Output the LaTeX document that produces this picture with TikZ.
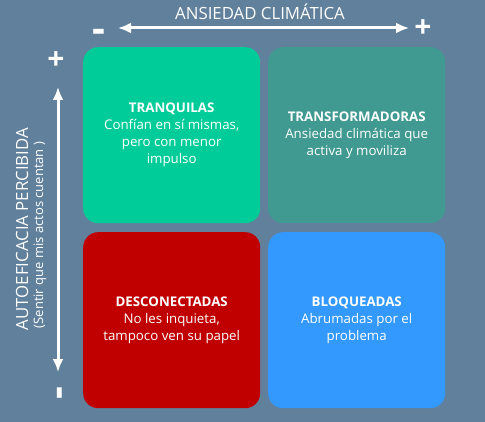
\documentclass[tikz,border=0pt]{standalone}
\usepackage{fontspec}
\setmainfont{Open Sans}
\usetikzlibrary{arrows.meta}
\definecolor{bgc}{RGB}{96,128,155}
\definecolor{tlc}{RGB}{0,204,153}
\definecolor{trc}{RGB}{64,154,146}
\definecolor{blc}{RGB}{192,0,0}
\definecolor{brc}{RGB}{51,153,255}
\tikzset{
  quad/.style={rounded corners=15pt, minimum width=177pt, minimum height=176pt, inner sep=0pt, text=white, align=center, font=\fontsize{13.3}{17}\selectfont, anchor=north west},
  axarrow/.style={white, line width=3pt, {Latex[length=13pt,width=11pt]}-{Latex[length=13pt,width=11pt]}},
  plussign/.style={text=white, font=\fontsize{30}{30}\selectfont\bfseries, inner sep=0pt},
  minussign/.style={text=white, font=\fontsize{40}{40}\selectfont\bfseries, inner sep=0pt},
  axlabel/.style={text=white, font=\fontsize{16.8}{18}\selectfont, inner sep=0pt}
}
\begin{document}
\begin{tikzpicture}[x=1pt,y=-1pt]
\fill[bgc] (0,0) rectangle (485,422);
\useasboundingbox (0,0) rectangle (485,422);
\node[quad, fill=tlc] (tl) at (83,47) {\textbf{TRANQUILAS}\\Confían en sí mismas,\\pero con menor\\impulso};
\node[quad, fill=trc] (tr) at (268,47) {\textbf{TRANSFORMADORAS}\\Ansiedad climática que\\activa y moviliza};
\node[quad, fill=blc] (bl) at (83,232) {\textbf{DESCONECTADAS}\\No les inquieta,\\tampoco ven su papel};
\node[quad, fill=brc] (br) at (268,232) {\textbf{BLOQUEADAS}\\Abrumadas por el\\problema};
% top axis
\node[axlabel] (xt) at (260,12) {ANSIEDAD CLIMÁTICA};
\coordinate (xa) at (118,28);
\coordinate (xb) at (409,28);
\draw[axarrow] (xa) -- (xb);
\node[minussign] (xm) at (99,35.5) {-};
\node[plussign] (xp) at (423,29) {+};
% left axis
\coordinate (ya) at (58,87);
\coordinate (yb) at (58,372);
\draw[axarrow] (ya) -- (yb);
\node[plussign] (yp) at (56,61) {+};
\node[minussign, rotate=90] (ym) at (63.5,393.5) {-};
\node[axlabel, rotate=90] (yt) at (22,229) {AUTOEFICACIA PERCIBIDA};
\node[axlabel, rotate=90, font=\fontsize{13}{14}\selectfont] (ys) at (40,235) {(Sentir que mis actos cuentan )};
\end{tikzpicture}
\end{document}
